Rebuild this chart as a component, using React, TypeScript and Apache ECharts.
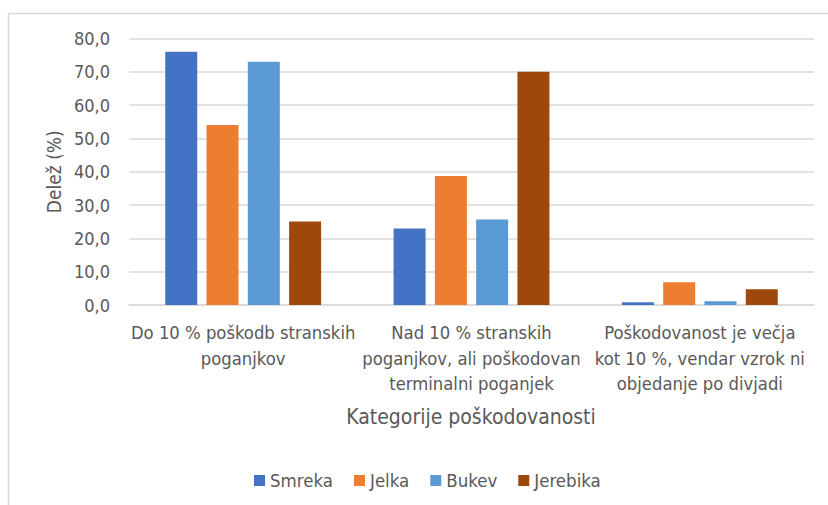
import React, { useEffect, useRef } from "react";
import * as echarts from "echarts";

const categories = [
  "Do 10 % poškodb stranskih\npoganjkov",
  "Nad 10 % stranskih\npoganjkov, ali poškodovan\nterminalni poganjek",
  "Poškodovanost je večja\nkot 10 %, vendar vzrok ni\nobjedanje po divjadi",
];
const seriesNames = ["Smreka", "Jelka", "Bukev", "Jerebika"];
const smreka = [76.0, 23.0, 0.8];
const jelka = [54.0, 38.7, 6.8];
const bukev = [73.0, 25.7, 1.1];
const jerebika = [25.1, 70.0, 4.7];
const colors = ["#4472C4", "#ED7D31", "#5B9BD5", "#9E480E"];
const yTicks = { min: 0, max: 80, interval: 10 };

const FONT = '"Liberation Sans Narrow", "DejaVu Sans Condensed", "Noto Sans", sans-serif';

export default function App() {
  const ref = useRef<HTMLDivElement>(null);
  useEffect(() => {
    if (!ref.current) return;
    const chart = echarts.init(ref.current, null, { renderer: "svg" });
    const values = [smreka, jelka, bukev, jerebika];
    chart.setOption({
      animation: false,
      textStyle: { fontFamily: FONT },
      grid: { left: 129, right: 14, top: 38.5, bottom: 200 },
      xAxis: {
        type: "category",
        data: categories,
        axisLine: { lineStyle: { color: "#D9D9D9", width: 1.5 } },
        axisTick: { show: false },
        axisLabel: {
          margin: 15,
          fontSize: 18.3,
          lineHeight: 25.5,
          color: "#595959",
          fontFamily: FONT,
          interval: 0,
        },
      },
      yAxis: {
        type: "value",
        min: yTicks.min,
        max: yTicks.max,
        interval: yTicks.interval,
        name: "Delež (%)",
        nameLocation: "middle",
        nameGap: 66,
        nameTextStyle: { fontSize: 19, color: "#595959", fontFamily: FONT },
        axisLine: { show: false },
        axisTick: { show: false },
        splitLine: { lineStyle: { color: "#D9D9D9", width: 1.5 } },
        axisLabel: {
          margin: 19,
          fontSize: 18,
          color: "#595959",
          fontFamily: FONT,
          formatter: (v: number) => v.toFixed(1).replace(".", ","),
        },
      },
      legend: {
        data: seriesNames,
        left: 249,
        top: 466,
        itemWidth: 11,
        itemHeight: 11,
        itemGap: 21,
        icon: "rect",
        textStyle: { fontSize: 18.5, color: "#595959", fontFamily: FONT },
      },
      graphic: [
        {
          type: "rect",
          shape: { x: 8.5, y: 13.5, width: 900, height: 600 },
          style: { fill: "none", stroke: "#D9D9D9", lineWidth: 1.5 },
          silent: true,
        },
        {
          type: "text",
          x: 471,
          y: 417,
          style: {
            text: "Kategorije poškodovanosti",
            fontSize: 21,
            fill: "#595959",
            fontFamily: FONT,
            align: "center",
            verticalAlign: "middle",
          },
        },
      ],
      series: seriesNames.map((name, i) => ({
        name,
        type: "bar",
        data: values[i],
        barWidth: 32,
        barGap: "29%",
        itemStyle: { color: colors[i] },
      })),
    });
    return () => chart.dispose();
  }, []);
  return (
    <div
      ref={ref}
      style={{ position: "fixed", left: 0, top: 0, width: 828, height: 505, background: "#fff" }}
    />
  );
}
